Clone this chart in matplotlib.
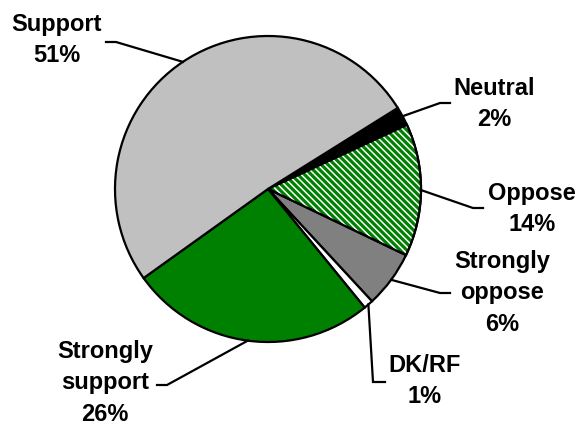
import matplotlib
matplotlib.use("Agg")
import matplotlib.pyplot as plt
import numpy as np
from matplotlib.patches import Wedge

labels = ["Neutral", "Oppose", "Strongly\noppose", "DK/RF", "Strongly\nsupport", "Support"]
values = [2, 14, 6, 1, 26, 51]
colors = ["#000000", "#008000", "#808080", "#ffffff", "#008000", "#c0c0c0"]

# label centres and leader elbows, in image pixels (y down)
label_xy = [(494, 104), (532, 209), (502, 293), (425, 381), (105, 383), (57, 40)]
elbow_xy = [(440, 103), (473, 208), (440, 293), (373, 382), (167, 385), (116, 42)]
end_xy = [(450, 103), (483, 208), (450, 293), (385, 382), (157, 385), (106, 42)]

W, H = 576, 425
plt.rcParams["font.family"] = ["Liberation Sans", "DejaVu Sans"]
plt.rcParams["hatch.linewidth"] = 1.1

fig = plt.figure(figsize=(W / 100, H / 100), dpi=100)
ax = fig.add_axes([0, 0, 1, 1])

cx, cy, r = 268, H - 189, 153
wedges, _ = ax.pie(values, colors=colors, startangle=32, counterclock=False,
                   center=(cx, cy), radius=r, frame=True,
                   wedgeprops=dict(edgecolor="black", linewidth=1.6))
ax.set_xlim(0, W)
ax.set_ylim(0, H)
ax.axis("off")

# white diagonal stripes over the "Oppose" slice
w = wedges[1]
ax.add_patch(Wedge((cx, cy), r, w.theta1, w.theta2, facecolor="none",
                   edgecolor="white", linewidth=0, hatch="\\" * 5, zorder=3))
ax.add_patch(Wedge((cx, cy), r, w.theta1, w.theta2, facecolor="none",
                   edgecolor="black", linewidth=1.6, zorder=4))

for i, wd in enumerate(wedges):
    mid = np.deg2rad((wd.theta1 + wd.theta2) / 2)
    sx, sy = cx + r * np.cos(mid), cy + r * np.sin(mid)
    ex, ey = elbow_xy[i]
    tx, ty = end_xy[i]
    ax.plot([sx, ex, tx], [sy, H - ey, H - ty], color="black", lw=1.6,
            solid_joinstyle="miter", zorder=5)
    lx, ly = label_xy[i]
    ax.text(lx, H - ly, f"{labels[i]}\n{values[i]}%", ha="center", va="center",
            fontsize=17, fontweight="bold", linespacing=1.45)

fig.savefig("out.png", dpi=100)
